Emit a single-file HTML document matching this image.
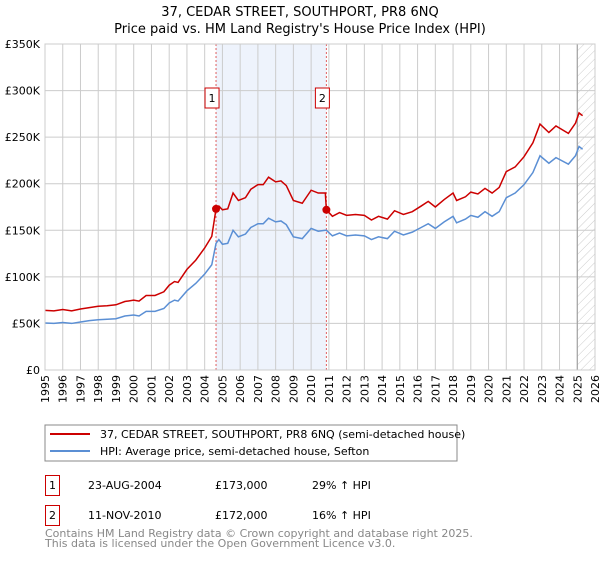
<!DOCTYPE html>
<html><head><meta charset="utf-8"><style>
body{margin:0;background:#fff;font-family:"DejaVu Sans","Liberation Sans",sans-serif;}
svg text{font-family:"DejaVu Sans","Liberation Sans",sans-serif;}
</style></head><body>
<svg id="chart" width="600" height="560" xmlns="http://www.w3.org/2000/svg">
<defs><pattern id="hatch" width="6" height="6" patternUnits="userSpaceOnUse" patternTransform="rotate(45)"><line x1="0" y1="0" x2="0" y2="6" stroke="#ccc" stroke-width="1"/></pattern></defs>
<text x="300" y="16" text-anchor="middle" font-size="13">37, CEDAR STREET, SOUTHPORT, PR8 6NQ</text>
<text x="300" y="33" text-anchor="middle" font-size="13">Price paid vs. HM Land Registry's House Price Index (HPI)</text>
<g id="plot"></g>
<rect x="45" y="425" width="412" height="36" fill="#fff" stroke="#888"/>
<line x1="50" y1="434" x2="90" y2="434" stroke="#cc0000" stroke-width="2"/>
<text x="100" y="438" font-size="11">37, CEDAR STREET, SOUTHPORT, PR8 6NQ (semi-detached house)</text>
<line x1="50" y1="451" x2="90" y2="451" stroke="#5b8fd4" stroke-width="2"/>
<text x="100" y="455" font-size="11">HPI: Average price, semi-detached house, Sefton</text>
<g font-size="11">
<rect x="45.5" y="475.5" width="14" height="20" fill="#fff" stroke="#cc0000"/>
<text x="52.5" y="489" text-anchor="middle">1</text>
<text x="88" y="489">23-AUG-2004</text><text x="215" y="489">£173,000</text><text x="312" y="489">29% ↑ HPI</text>
<rect x="45.5" y="505.5" width="14" height="20" fill="#fff" stroke="#cc0000"/>
<text x="52.5" y="519" text-anchor="middle">2</text>
<text x="88" y="519">11-NOV-2010</text><text x="215" y="519">£172,000</text><text x="312" y="519">16% ↑ HPI</text>
</g>
<text x="45" y="537" font-size="11" fill="#888">Contains HM Land Registry data © Crown copyright and database right 2025.</text>
<text x="45" y="547" font-size="11" fill="#888">This data is licensed under the Open Government Licence v3.0.</text>
</svg>
<script>
const years=[1995.0,1995.5,1996.0,1996.5,1997.0,1997.5,1998.0,1998.5,1999.0,1999.5,2000.0,2000.3,2000.7,2001.2,2001.7,2002.0,2002.3,2002.5,2003.0,2003.5,2004.0,2004.4,2004.64,2004.8,2005.0,2005.3,2005.6,2005.9,2006.3,2006.6,2007.0,2007.3,2007.6,2008.0,2008.3,2008.6,2009.0,2009.5,2010.0,2010.4,2010.8,2010.86,2011.2,2011.6,2012.0,2012.5,2013.0,2013.4,2013.8,2014.3,2014.7,2015.2,2015.7,2016.2,2016.6,2017.0,2017.5,2018.0,2018.2,2018.7,2019.0,2019.4,2019.8,2020.2,2020.6,2021.0,2021.5,2022.0,2022.5,2022.9,2023.4,2023.8,2024.5,2024.9,2025.1,2025.3];
const hpi=[50.5,50,51,50,51.5,53,54,54.5,55,58,59,58,63,63,66,72,75,74,85,93,103,113,136,140,135,136,150,143,146,153,157,157,163,159,160,156,143,141,152,149,150,150,144,147,144,145,144,140,143,141,149,145,148,153,157,152,159,165,158,162,166,164,170,165,170,185,190,199,212,230,222,228,221,230,240,237];
const price=[64,63.5,65,63.5,65.5,67,68.5,69,70,73.5,75,74,80,80,84,91,95,94,108,118,131,143.5,173,176,172,173,190,182,185,194,199,199,207,202,203,198,182,179,193,190,190,172,165,169,166,167,166,161,165,162,171,167,170,176,181,175,183,190,182,186,191,189,195,190,196,213,218,229,244,264,255,262,254,265,276,273];
const saleYears=[2004.64,2010.86];
const salePrices=[173,172];
const yTicks=[0,50,100,150,200,250,300,350];
const yTickLabels=["£0","£50K","£100K","£150K","£200K","£250K","£300K","£350K"];
const xTicks=[1995,1996,1997,1998,1999,2000,2001,2002,2003,2004,2005,2006,2007,2008,2009,2010,2011,2012,2013,2014,2015,2016,2017,2018,2019,2020,2021,2022,2023,2024,2025,2026];
const L=45,R=595,T=44,B=370;
const xs=y=>L+(y-1995)/(2026-1995)*(R-L);
const ys=v=>B-v/350*(B-T);
const NS="http://www.w3.org/2000/svg";
const g=document.getElementById('plot');
function mk(tag,attrs,parent){const e=document.createElementNS(NS,tag);for(const k in attrs)e.setAttribute(k,attrs[k]);(parent||g).appendChild(e);return e;}
let e;
e=mk('rect',{x:xs(saleYears[0]),y:T,width:xs(saleYears[1])-xs(saleYears[0]),height:B-T,fill:'#eef3fc'});


e=mk('rect',{x:xs(2025.0),y:T,width:R-xs(2025.0),height:B-T,fill:'url(#hatch)'});


yTicks.forEach((v,i)=>{
 e=mk('line',{x1:L,x2:R,y1:ys(v),y2:ys(v),stroke:'#ccc','stroke-width':1});
 
 
 e=mk('text',{x:L-5,y:ys(v)+4,'text-anchor':'end','font-size':11});
 e.textContent=yTickLabels[i];
 
 
});
xTicks.forEach(y=>{
 e=mk('line',{x1:xs(y),x2:xs(y),y1:T,y2:B,stroke:'#ccc','stroke-width':1});
 
 
 e=mk('text',{x:0,y:0,'text-anchor':'end','font-size':11,transform:`translate(${xs(y)+4},${B+5}) rotate(-90)`});
 e.textContent=String(y);
 
 
});
e=mk('line',{x1:xs(2025.0),x2:xs(2025.0),y1:T,y2:B,stroke:'#999','stroke-width':1});


saleYears.forEach((y,i)=>{
 e=mk('line',{x1:xs(y),x2:xs(y),y1:T,y2:B,stroke:'#e06060','stroke-width':1,'stroke-dasharray':'2,2'});
 
 
});
e=mk('polyline',{points:years.map((y,i)=>xs(y)+','+ys(hpi[i])).join(' '),fill:'none',stroke:'#5b8fd4','stroke-width':1.5});


e=mk('polyline',{points:years.map((y,i)=>xs(y)+','+ys(price[i])).join(' '),fill:'none',stroke:'#cc0000','stroke-width':1.5});


saleYears.forEach((y,i)=>{
 e=mk('circle',{cx:xs(y),cy:ys(salePrices[i]),r:4,fill:'#cc0000'});
 
 
 e=mk('rect',{x:xs(y)-11,y:88,width:14,height:20,fill:'#fff',stroke:'#cc0000'});
 
 
 e=mk('text',{x:xs(y)-4,y:102,'text-anchor':'middle','font-size':11});
 e.textContent=String(i+1);
 
 
});
e=mk('rect',{x:L,y:T,width:R-L,height:B-T,fill:'none',stroke:'#ccc'});


</script>
</body></html>
